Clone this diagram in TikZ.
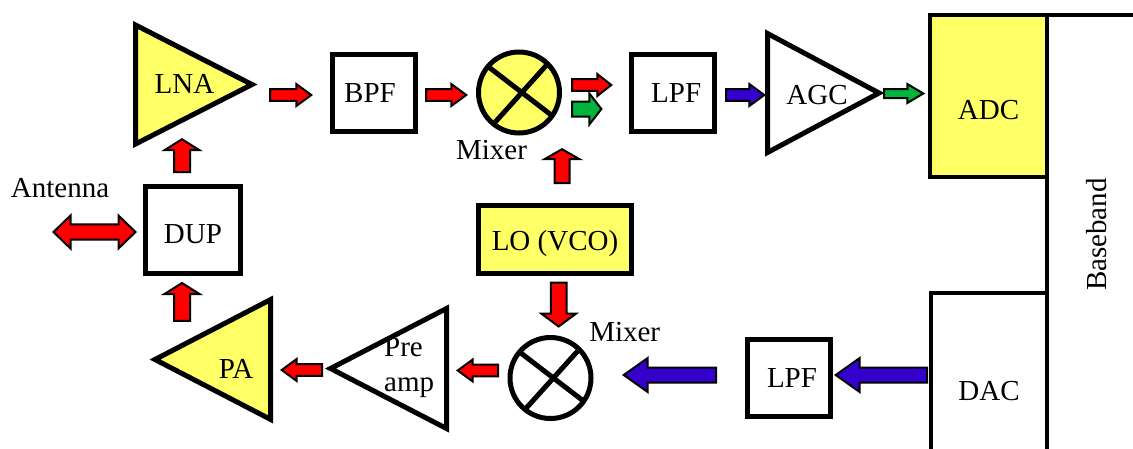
\documentclass[tikz,border=0pt]{standalone}
\usepackage{fontspec}
\setmainfont{Liberation Serif}
\usepackage{xcolor}
\usetikzlibrary{calc,shapes.geometric}
\definecolor{hilite}{RGB}{255,255,102}
\definecolor{arrblue}{RGB}{51,0,204}
\definecolor{arrgreen}{RGB}{0,180,60}

\begin{document}
\begin{tikzpicture}[
  x=1pt, y=-1pt,
  every node/.style={font=\fontsize{29}{35}\selectfont},
  box/.style={draw, line width=5pt, inner sep=0pt, fill=white},
  amp/.style={isosceles triangle, isosceles triangle stretches, draw, line width=5pt,
              inner sep=0pt, outer sep=0pt, anchor=apex},
  mix/.style={circle, draw, line width=5pt, inner sep=0pt, outer sep=0pt, minimum size=81pt},
  txt/.style={inner sep=0pt, anchor=base},
  arr/.style n args={3}{draw=black, line width=2pt, to path={
      -- ($(\tikztostart)!#1pt!90:(\tikztotarget)$)
      -- ($(\tikztotarget)!#3pt!(\tikztostart)!#1pt!90:(\tikztotarget)$)
      -- ($(\tikztotarget)!#3pt!(\tikztostart)!#2pt!90:(\tikztotarget)$)
      -- (\tikztotarget)
      -- ($(\tikztotarget)!#3pt!(\tikztostart)!#2pt!-90:(\tikztotarget)$)
      -- ($(\tikztotarget)!#3pt!(\tikztostart)!#1pt!-90:(\tikztotarget)$)
      -- ($(\tikztostart)!#1pt!-90:(\tikztotarget)$)
      -- cycle}},
  dblarr/.style n args={3}{draw=black, line width=2pt, to path={
      -- ($(\tikztostart)!#3pt!(\tikztotarget)!#2pt!90:(\tikztotarget)$)
      -- ($(\tikztostart)!#3pt!(\tikztotarget)!#1pt!90:(\tikztotarget)$)
      -- ($(\tikztotarget)!#3pt!(\tikztostart)!#1pt!90:(\tikztotarget)$)
      -- ($(\tikztotarget)!#3pt!(\tikztostart)!#2pt!90:(\tikztotarget)$)
      -- (\tikztotarget)
      -- ($(\tikztotarget)!#3pt!(\tikztostart)!#2pt!-90:(\tikztotarget)$)
      -- ($(\tikztotarget)!#3pt!(\tikztostart)!#1pt!-90:(\tikztotarget)$)
      -- ($(\tikztostart)!#3pt!(\tikztotarget)!#1pt!-90:(\tikztotarget)$)
      -- ($(\tikztostart)!#3pt!(\tikztotarget)!#2pt!-90:(\tikztotarget)$)
      -- cycle}},
  redarr/.style={arr={5.8}{11}{15}, fill=red},
  redvert/.style={arr={8}{17.5}{11}, fill=red},
  bluebig/.style={arr={7.5}{17}{24}, fill=arrblue},
]
\useasboundingbox (0,0) rectangle (1133,448);
\clip (0,0) rectangle (1133,448);

% Receive path
\node[amp, fill=hilite, minimum width=119pt, minimum height=116.5pt] (lna) at (252,84.5) {};
\node[txt] (lnatxt) at (184.5,93) {LNA};
\node[box, minimum width=83pt, minimum height=77pt] (bpf) at (374,93) {\hspace*{-8pt}BPF};
\node[mix, fill=hilite] (mixa) at (519,92.5) {};
\node[txt] (mixatxt) at (491.5,159) {Mixer};
\node[box, minimum width=83.5pt, minimum height=77pt] (lpfa) at (673.2,93) {\hspace*{6pt}LPF};
\node[amp, minimum width=119pt, minimum height=111.5pt] (agc) at (879,93) {};
\node[txt] (agctxt) at (817,104) {AGC};
\node[box, fill=hilite, line width=3.5pt, minimum width=117pt, minimum height=162pt, text height=47pt] (adc) at (988.5,96) {ADC};

% Middle row
\node[box, minimum width=95pt, minimum height=87pt, text height=27pt] (dup) at (193,230) {DUP};
\node[txt] (ant) at (60,197) {Antenna};
\node[box, fill=hilite, minimum width=152.5pt, minimum height=68pt, text height=27pt, text depth=6pt] (lo) at (555,239.5) {LO (VCO)};

% Transmit path
\node[amp, shape border rotate=180, fill=hilite, minimum width=119.7pt, minimum height=115.5pt] (pa) at (155,359.5) {};
\node[txt] (patxt) at (236,378) {PA};
\node[amp, shape border rotate=180, minimum width=120pt, minimum height=116pt] (pre) at (330.5,368.5) {};
\node[txt, align=left, anchor=north west] (pretxt) at (384,337) {Pre\\amp};
\node[mix, fill=white] (mixb) at (550.5,378) {};
\node[txt] (mixbtxt) at (624.7,341.7) {Mixer};
\node[box, minimum width=83pt, minimum height=77pt] (lpfb) at (789,378) {\hspace*{6pt}LPF};
\node[box, line width=4pt, minimum width=116pt, minimum height=197.5pt] (dac) at (989,391.25) {DAC};

% Baseband edge
\coordinate (bbtop) at (1133,15);
\coordinate (bbbot) at (1047,448);
\draw[line width=4.5pt] (bbtop) -| (bbbot);
\node[txt, rotate=90] (bb) at (1106,234.5) {Baseband};

% Mixer crosses
\foreach \m in {mixa,mixb}{
  \draw[line width=5pt] (\m.140) -- (\m.-35);
  \draw[line width=5pt] (\m.45) -- (\m.231);
}

% Block arrows
\draw[redarr] ([shift={(18,10.5)}]lna.apex) to ([shift={(-62.7,2)}]bpf.center);
\draw[redarr] ([shift={(52,2)}]bpf.center) to ([shift={(-52.7,2.5)}]mixa.center);
\draw[arr={5.8}{11}{14}, fill=red] ([shift={(53,-7.5)}]mixa.center) to ([shift={(-61.9,-8)}]lpfa.center);
\draw[arr={7.5}{15.5}{12}, fill=arrgreen] ([shift={(53,16.5)}]mixa.center) to ([shift={(-71.8,16)}]lpfa.center);
\draw[arr={5.8}{11}{15}, fill=arrblue] ([shift={(52.8,2)}]lpfa.center) to ([shift={(-114.7,2)}]agc.apex);
\draw[arr={4.5}{9.5}{16}, fill=arrgreen] ([shift={(5,.5)}]agc.apex) to ([shift={(-65.2,-2.5)}]adc.center);
\draw[redvert] ([shift={(-11,-58)}]dup.center) to ([shift={(-70,54.7)}]lna.apex);
\draw[arr={7.5}{17.5}{10}, fill=red] ([shift={(7,-56.5)}]lo.center) to ([shift={(43,56.7)}]mixa.center);
\draw[arr={7.8}{17.5}{13}, fill=red] ([shift={(3.7,43.2)}]lo.center) to ([shift={(8.2,-51.5)}]mixb.center);
\draw[redarr] ([shift={(-52.5,-7.5)}]mixb.center) to ([shift={(127.2,2)}]pre.apex);
\draw[redarr] ([shift={(-8.5,1.5)}]pre.apex) to ([shift={(126.7,10.5)}]pa.apex);
\draw[redvert] ([shift={(27,-38.7)}]pa.apex) to ([shift={(-11,53)}]dup.center);
\draw[bluebig] ([shift={(-62,-16.25)}]dac.center) to ([shift={(46.7,-3)}]lpfb.center);
\draw[bluebig] ([shift={(-73,-3)}]lpfb.center) to ([shift={(73.2,-3)}]mixb.center);
\draw[dblarr={7.7}{16.5}{17}, fill=red] ([shift={(-6.5,35)}]ant.base) to ([shift={(-57.5,2)}]dup.center);
\end{tikzpicture}
\end{document}
